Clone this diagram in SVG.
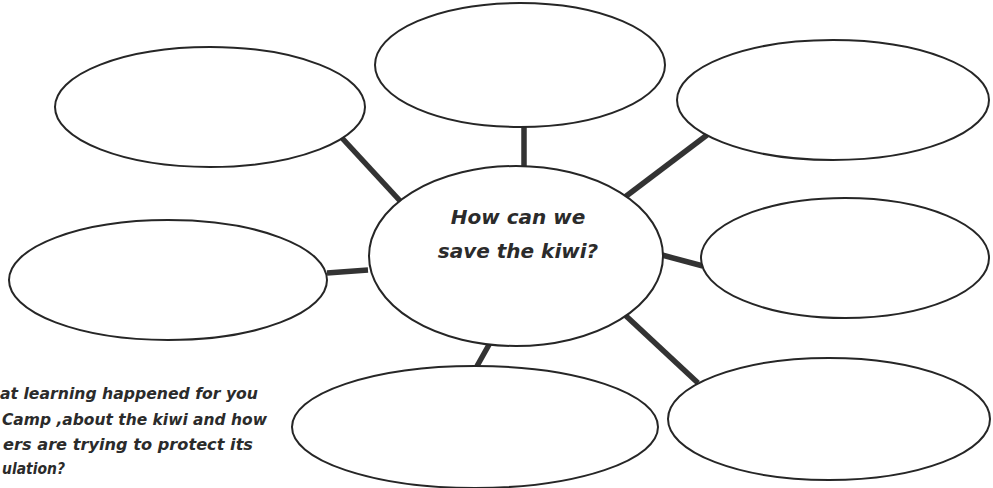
<svg xmlns="http://www.w3.org/2000/svg" width="993" height="488" viewBox="0 0 993 488">
<style>
.node ellipse{fill:#fff;stroke:#262626;stroke-width:2}
.conn line{stroke:#333;stroke-width:5.5;stroke-linecap:butt}
text{font-family:"DejaVu Sans","Liberation Sans",sans-serif;font-weight:bold;font-style:italic;fill:#2b2b2b}
.c{font-size:20px;text-anchor:middle}
.n{font-size:16.5px}
</style>
<rect width="993" height="488" fill="#fff"/>
<g id="connectors" class="conn">
<line x1="342" y1="138" x2="402" y2="203"/>
<line x1="524" y1="126" x2="524" y2="166"/>
<line x1="707" y1="135" x2="625" y2="197"/>
<line x1="327" y1="273" x2="368" y2="270"/>
<line x1="662" y1="255" x2="703" y2="266"/>
<line x1="625" y1="315" x2="698" y2="383"/>
<line x1="490" y1="343" x2="477" y2="366"/>
</g>
<g id="n-topleft" class="node"><ellipse cx="210" cy="107" rx="155" ry="60"/></g>
<g id="n-top" class="node"><ellipse cx="520" cy="65" rx="145" ry="62"/></g>
<g id="n-topright" class="node"><ellipse cx="833" cy="100" rx="156" ry="60"/></g>
<g id="n-left" class="node"><ellipse cx="168" cy="280" rx="159" ry="60"/></g>
<g id="n-right" class="node"><ellipse cx="845" cy="258" rx="144" ry="60"/></g>
<g id="n-bottom" class="node"><ellipse cx="475" cy="427" rx="183" ry="61"/></g>
<g id="n-bottomright" class="node"><ellipse cx="829" cy="419" rx="161" ry="61"/></g>
<g id="n-center" class="node"><ellipse cx="516" cy="256" rx="147" ry="90"/>
<text class="c" x="518" y="224">How can we</text>
<text class="c" x="518" y="258">save the kiwi?</text>
</g>
<g id="note">
<text class="n" x="0" y="399" textLength="258" lengthAdjust="spacingAndGlyphs">at learning happened for you</text>
<text class="n" x="2" y="425" textLength="265" lengthAdjust="spacingAndGlyphs">Camp ,about the kiwi and how</text>
<text class="n" x="3" y="450" textLength="250" lengthAdjust="spacingAndGlyphs">ers are trying to protect its</text>
<text class="n" x="2" y="474" textLength="63" lengthAdjust="spacingAndGlyphs">ulation?</text>
</g>
</svg>
